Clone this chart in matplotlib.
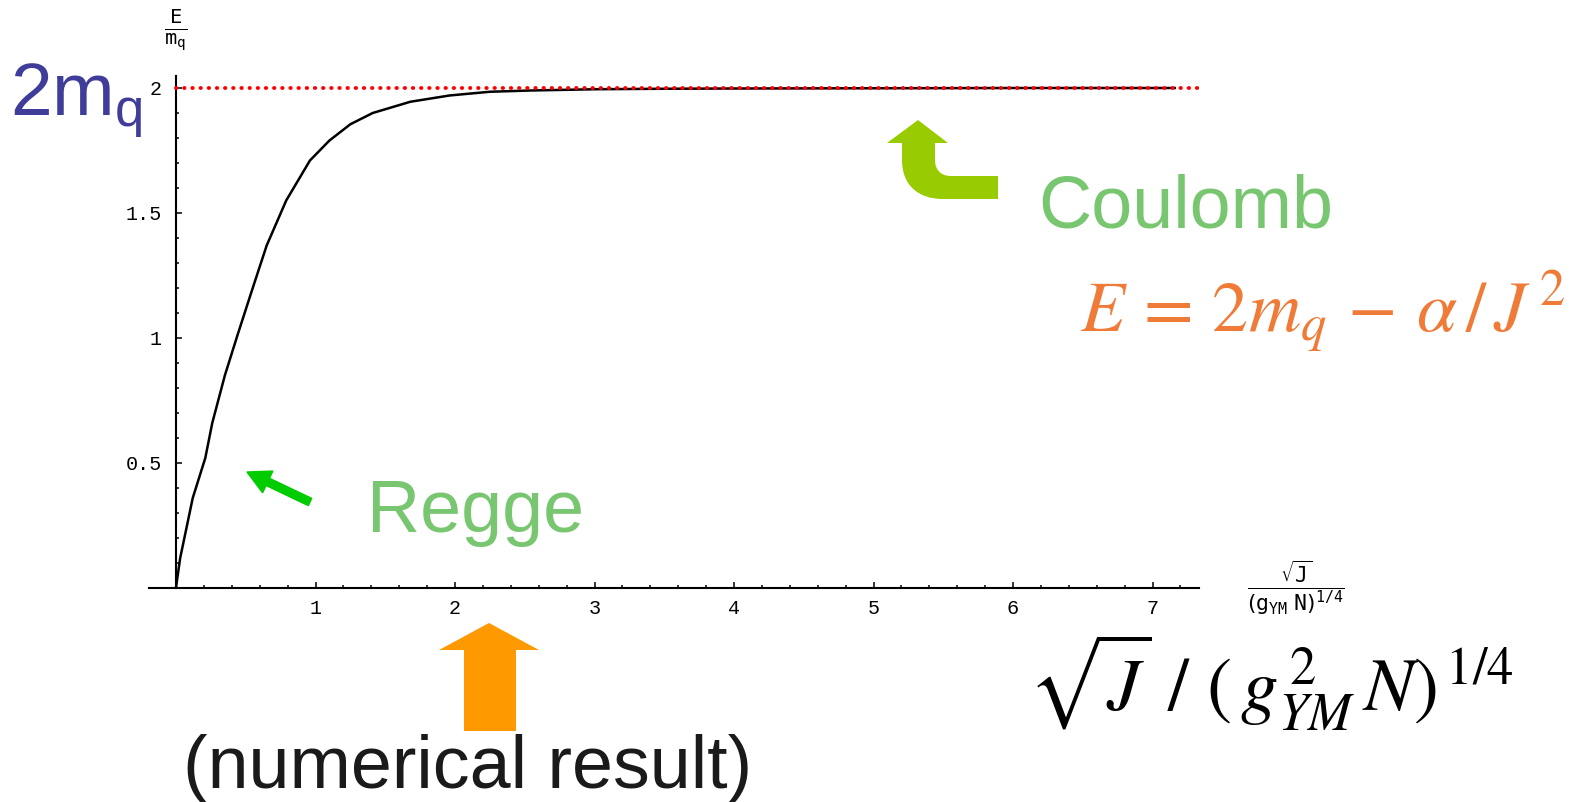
import matplotlib
matplotlib.use("Agg")
import matplotlib.pyplot as plt
import matplotlib.transforms as mtransforms
from matplotlib.path import Path
from matplotlib.patches import PathPatch, Polygon, FancyArrow
import numpy as np

plt.rcParams['font.family'] = ['Liberation Sans', 'DejaVu Sans']

# values
x_vals = [0, 0.007, 0.03, 0.12, 0.21, 0.26, 0.35, 0.44, 0.55, 0.65, 0.79, 0.96,
          1.10, 1.25, 1.41, 1.68, 1.96, 2.25, 2.54, 3.0, 3.5, 4.0, 5.0, 6.0, 7.16]
y_vals = [0, 0.03, 0.12, 0.36, 0.52, 0.66, 0.85, 1.01, 1.20, 1.37, 1.55, 1.71,
          1.79, 1.855, 1.90, 1.945, 1.97, 1.985, 1.99, 1.995, 1.997, 1.998, 1.999, 2.0, 2.0]
limit_value = 2.0
limit_end = 7.33

y_major = [0.5, 1, 1.5, 2]
y_major_labels = ["0.5", "1", "1.5", "2"]
x_major = [1, 2, 3, 4, 5, 6, 7]
x_major_labels = ["1", "2", "3", "4", "5", "6", "7"]

W, H = 1580, 802
fig = plt.figure(figsize=(W / 100, H / 100), dpi=100)

# pixel anchors of the plot area (x=0, x=1 / y=0, y=1)
x0_px, x1_px = 176, 315.5
y0_px, y1_px = 588, 338
xlim = (-0.19, 7.33)
ylim = (0, 2.05)
left = x0_px + xlim[0] * (x1_px - x0_px)
right = x0_px + xlim[1] * (x1_px - x0_px)
top = y0_px - ylim[1] * (y0_px - y1_px)
bottom = y0_px
ax = fig.add_axes([left / W, 1 - bottom / H, (right - left) / W, (bottom - top) / H])
ax.set_xlim(*xlim)
ax.set_ylim(*ylim)

ax.plot(x_vals, y_vals, color='black', lw=1.8, zorder=3)
ax.hlines(limit_value, 0, limit_end, colors='red', lw=2.8,
          linestyles=[(0, (0.1, 2.0))], zorder=4)
for coll in ax.collections:
    coll.set_capstyle('round')

# axes crossing at the origin, Mathematica style
ax.spines['top'].set_visible(False)
ax.spines['right'].set_visible(False)
ax.spines['left'].set_position(('data', 0))
ax.spines['left'].set_bounds(0, ylim[1])
for s in ('left', 'bottom'):
    ax.spines[s].set_linewidth(1.5)

ax.set_yticks(y_major)
ax.set_yticklabels(y_major_labels)
ax.set_yticks(np.arange(0.1, 2.05, 0.1), minor=True)
ax.set_xticks(x_major)
ax.set_xticklabels(x_major_labels)
ax.set_xticks(np.arange(0.2, 7.3, 0.2), minor=True)
ax.tick_params(which='both', direction='in', width=1.1, colors='black')
ax.tick_params(which='major', length=4.5)
ax.tick_params(which='minor', length=2.5)
ax.tick_params(axis='y', which='major', pad=10)
ax.tick_params(axis='x', which='major', pad=8)
for lab in ax.get_xticklabels() + ax.get_yticklabels():
    lab.set_family('Liberation Mono')
    lab.set_fontsize(14.5)
ax.patch.set_visible(False)

# small Mathematica axis labels
fig.text(176 / W, 1 - 30 / H, r"$\frac{\mathtt{E}}{\mathtt{m_q}}$",
         math_fontfamily='dejavusans', ha='center', va='center', size=21)
fig.text(1296 / W, 1 - 588 / H,
         r"$\frac{\sqrt{\mathtt{J}}}{(\mathtt{g_{YM}}\ \mathtt{N})^{\mathtt{1/4}}}$",
         math_fontfamily='dejavusans', ha='center', va='center', size=22)

# big slide annotations
fig.text(10 / W, 1 - 116 / H, r"$\mathregular{2m_q}$", color='#3f3d99',
         size=54, va='baseline')
fig.text(1038 / W, 1 - 227 / H, "Coulomb", color='#78c670', size=53, va='baseline')
fig.text(367 / W, 1 - 532 / H, "Regge", color='#78c670', size=53, va='baseline')
fig.text(183 / W, 1 - 788 / H, "(numerical result)", color='#1a1a1a', size=53,
         va='baseline')
fig.text(1080 / W, 1 - 333 / H, r"$E\,=\,2m_q\,-\,\alpha\,/\,J^{\,2}$",
         color='#f07b38', size=52, math_fontfamily='stix', va='baseline')
fig.text(1028 / W, 1 - 710 / H, r"$\sqrt{J}\ /\ (\,g_{YM}^{\,2}\,N)^{\,1/4}$",
         color='black', size=54, math_fontfamily='stix', va='baseline')

# arrows, drawn in pixel coordinates (origin top-left)
pix = mtransforms.Affine2D().scale(1 / W, -1 / H).translate(0, 1) + fig.transFigure

orange = Polygon([(464, 731), (464, 650), (439, 650), (489, 623), (539, 650),
                  (516, 650), (516, 731)], closed=True, facecolor='#ff9900',
                 edgecolor='none', transform=pix)
fig.add_artist(orange)

verts = [(918, 120), (948, 143), (935, 143), (935, 160),
         (935, 170), (941, 176), (951, 176),
         (998, 176), (998, 199), (943, 199),
         (918, 199), (902, 185), (902, 160),
         (902, 143), (887, 143), (918, 120)]
codes = [Path.MOVETO, Path.LINETO, Path.LINETO, Path.LINETO,
         Path.CURVE4, Path.CURVE4, Path.CURVE4,
         Path.LINETO, Path.LINETO, Path.LINETO,
         Path.CURVE4, Path.CURVE4, Path.CURVE4,
         Path.LINETO, Path.LINETO, Path.CLOSEPOLY]
fig.add_artist(PathPatch(Path(verts, codes), facecolor='#99cc00',
                         edgecolor='none', transform=pix))

fig.add_artist(FancyArrow(310, 502, -63, -30, width=8, head_width=24,
                          head_length=23, length_includes_head=True,
                          color='#00cc00', transform=pix))

fig.savefig("out.png", dpi=100)
